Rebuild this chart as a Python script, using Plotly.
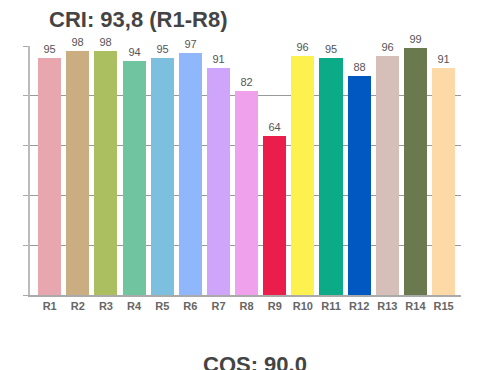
import plotly.graph_objects as go

categories = ["R1", "R2", "R3", "R4", "R5", "R6", "R7", "R8", "R9", "R10", "R11", "R12", "R13", "R14", "R15"]
values = [95, 98, 98, 94, 95, 97, 91, 82, 64, 96, 95, 88, 96, 99, 91]
colors = ["#E8A6AF", "#CAAD80", "#ABBF61", "#70C5A0", "#7DBFDE", "#90B6FB", "#CFA4FB", "#EFA2EB",
          "#EB1E4B", "#FDF150", "#0BAB87", "#0058C0", "#D5BFB8", "#6B7A4E", "#FDD9A8"]
title_text = "CRI: 93,8 (R1-R8)"
bottom_text = "CQS: 90.0"

# The page body has an 8px default margin, so pixel targets are offset by 8.
OFF = 8
W, H = 500, 370
L, R, T, B = 30 - OFF, 47, 46 - OFF, 83

fig = go.Figure(go.Bar(
    x=list(range(len(categories))), y=values,
    marker=dict(color=colors, line=dict(width=0)),
    width=0.82,
    text=[str(v) for v in values], textposition="outside",
    textfont=dict(family="Liberation Sans, Arial, sans-serif", size=11, color="#555555"),
    cliponaxis=False,
))

fig.update_layout(
    width=W, height=H,
    margin=dict(l=L, r=R, t=T, b=B),
    plot_bgcolor="white", paper_bgcolor="white",
    showlegend=False,
    bargap=0,
    font=dict(family="Liberation Sans, Arial, sans-serif"),
    xaxis=dict(
        tickmode="array", tickvals=list(range(len(categories))), ticktext=categories,
        range=[-0.70, 14.62],
        tickfont=dict(family="Liberation Sans, Arial, sans-serif", size=11, color="#666666", weight="bold"),
        showline=True, linecolor="#AAAAAA", linewidth=2,
        showgrid=False, ticks="", ticklen=0,
    ),
    yaxis=dict(
        range=[0, 100], dtick=20, tick0=0,
        showticklabels=False,
        showgrid=True, gridcolor="#999999", gridwidth=1,
        showline=True, linecolor="#BBBBBB", linewidth=2,
        ticks="outside", ticklen=5, tickcolor="#AAAAAA", tickwidth=1,
        zeroline=False,
    ),
)

pw = W - L - R
ph = H - T - B
def px_to_paper(xp, yp):
    # xp, yp are page pixel targets
    xf, yf = xp - OFF, yp - OFF
    return (xf - L) / pw, (H - B - yf) / ph

ax, _ = px_to_paper(47, 15)
_, ay = px_to_paper(47, OFF - 3)
bx, by = px_to_paper(255, 364)
fig.add_annotation(text=title_text, x=ax, y=ay, xref="paper", yref="paper",
                   xanchor="left", yanchor="top", showarrow=False,
                   font=dict(size=22, color="#444444", weight="bold"))
fig.add_annotation(text=bottom_text, x=bx, y=by, xref="paper", yref="paper",
                   xanchor="center", yanchor="middle", showarrow=False,
                   font=dict(size=22, color="#444444", weight="bold"))

fig.write_html("out.html")
